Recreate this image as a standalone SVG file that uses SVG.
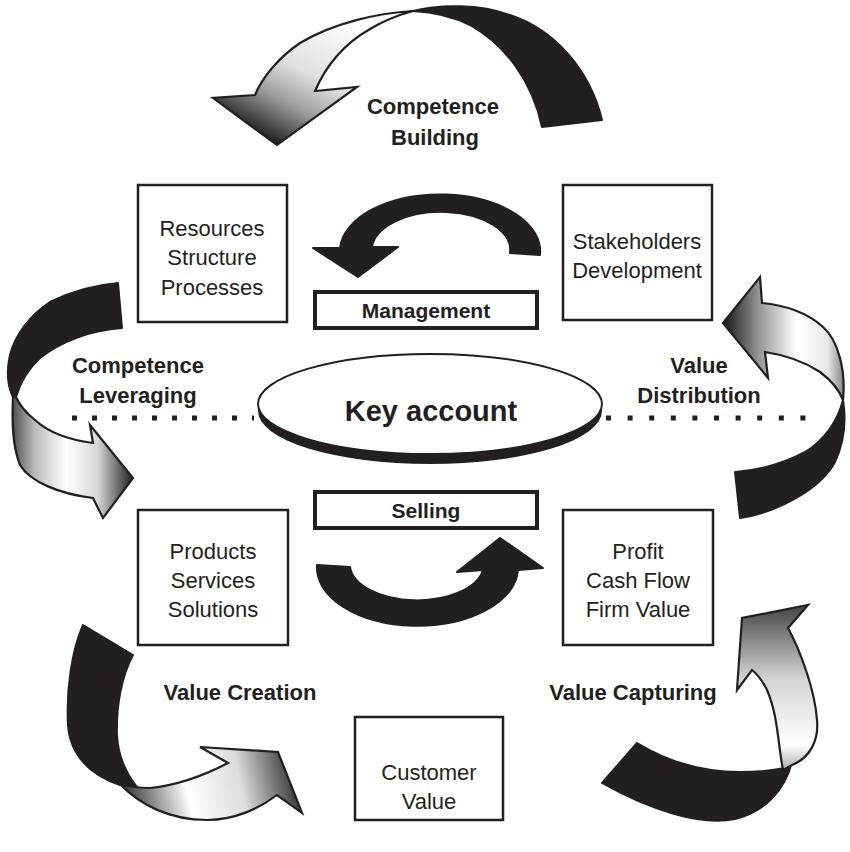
<svg xmlns="http://www.w3.org/2000/svg" width="850" height="852" viewBox="0 0 850 852">
<style>
.box{fill:#fff;stroke:#231f20;stroke-width:2.5}
.tbox{fill:#fff;stroke:#231f20;stroke-width:4}
.txt{font-family:"Liberation Sans",Arial,sans-serif;font-size:22px;fill:#231f20;text-anchor:middle}
.lbl{font-family:"Liberation Sans",Arial,sans-serif;font-size:21px;font-weight:bold;fill:#231f20;text-anchor:middle}
.blk{fill:#231f20;stroke:#231f20;stroke-width:2;stroke-linejoin:round}
.edge{stroke:#231f20;stroke-width:2.2;stroke-linejoin:miter}
.dots{stroke:#231f20;stroke-width:5;fill:none}
</style>
<defs>
<linearGradient id="gTop" gradientUnits="userSpaceOnUse" x1="340" y1="15" x2="270" y2="145">
<stop offset="0" stop-color="#ffffff"/><stop offset="0.45" stop-color="#e0e0e0"/><stop offset="0.7" stop-color="#9a9a9a"/><stop offset="1" stop-color="#151515"/>
</linearGradient>
<linearGradient id="gLeft" gradientUnits="userSpaceOnUse" x1="10" y1="0" x2="135" y2="0">
<stop offset="0" stop-color="#444"/><stop offset="0.2" stop-color="#bbb"/><stop offset="0.45" stop-color="#fff"/><stop offset="0.7" stop-color="#d8d8d8"/><stop offset="1" stop-color="#151515"/>
</linearGradient>
<linearGradient id="gRight" gradientUnits="userSpaceOnUse" x1="723" y1="0" x2="846" y2="0">
<stop offset="0" stop-color="#151515"/><stop offset="0.3" stop-color="#999"/><stop offset="0.6" stop-color="#fff"/><stop offset="0.85" stop-color="#e8e8e8"/><stop offset="1" stop-color="#777"/>
</linearGradient>
<linearGradient id="gBL" gradientUnits="userSpaceOnUse" x1="125" y1="800" x2="300" y2="760">
<stop offset="0" stop-color="#333"/><stop offset="0.35" stop-color="#fff"/><stop offset="0.65" stop-color="#dcdcdc"/><stop offset="1" stop-color="#1a1a1a"/>
</linearGradient>
<linearGradient id="gBR" gradientUnits="userSpaceOnUse" x1="0" y1="605" x2="0" y2="770">
<stop offset="0" stop-color="#444"/><stop offset="0.45" stop-color="#d5d5d5"/><stop offset="0.85" stop-color="#fff"/><stop offset="1" stop-color="#aaa"/>
</linearGradient>
</defs>

<g id="connectors">
<g id="arrow-competence-building">
<path class="blk" d="M413,11 C440,4 480,4 510,15 C555,30 590,70 602,120 L542,127 C532,80 505,45 470,25 C450,15 430,12 413,11 Z"/>
<path class="edge" fill="url(#gTop)" d="M413,11 C380,13 335,22 300,43 C278,58 262,78 255,95 L213,98 L277,145 L357,87 L315,91 C325,68 342,45 370,29 C385,20 402,14 413,11 Z"/>
</g>
<g id="arrow-competence-leveraging">
<path class="blk" d="M118,283 C95,285 70,292 50,302 C30,315 15,335 10,355 C6,372 8,388 13,397 L16,397 C20,383 27,370 40,358 C60,342 90,330 122,328 Z"/>
<path class="edge" fill="url(#gLeft)" d="M13,397 C12,420 12,445 20,465 C30,482 60,494 93,498 L103,518 L133,478 L90,425 L93,443 C70,440 48,432 35,420 C25,412 19,404 16,397 Z"/>
</g>
<g id="arrow-value-distribution">
<path class="blk" d="M735,472 L740,518 C775,513 820,490 835,462 C845,440 846,418 843,400 C838,420 825,440 805,452 C785,463 760,470 735,472 Z"/>
<path class="edge" fill="url(#gRight)" d="M843,400 C846,370 838,340 823,327 C808,313 785,305 762,303 L760,277 L723,323 L768,378 L765,352 C785,355 805,362 820,372 C832,381 840,392 843,400 Z"/>
</g>
<g id="arrow-value-creation">
<path class="blk" d="M83,625 C72,650 66,690 68,725 C70,755 90,775 120,785 L137,787 C125,772 118,755 117,735 C116,705 122,675 133,655 Z"/>
<path class="edge" fill="url(#gBL)" d="M120,784 C140,805 170,820 207,820 C235,820 260,808 277,795 L302,813 L278,752 L200,747 L228,763 C205,775 180,785 150,788 C140,788 130,787 120,784 Z"/>
</g>
<g id="arrow-value-capturing">
<path class="blk" d="M637,743 C665,760 700,772 740,772 C760,772 775,770 785,768 L792,762 C785,790 765,812 735,819 C700,826 650,810 602,783 Z"/>
<path class="edge" fill="url(#gBR)" d="M783,770 C778,745 778,715 767,690 C762,680 757,674 752,670 L737,690 L742,618 L808,605 L788,628 C800,650 815,690 817,720 C819,740 810,758 792,765 Z"/>
</g>
<path id="arrow-management" class="blk" d="M313,248 L340,248 A100,57 0 0 1 540,255 L510,253 A69,38 0 0 0 372,247 L398,247 L358,277 Z"/>
<path id="arrow-selling" class="blk" d="M317,565 A100,58 0 0 0 518,570 L543,568 L500,538 L457,572 L483,570 A67,36 0 0 1 350,567 Z"/>
<line class="dots" x1="72" y1="418" x2="254" y2="418" stroke-dasharray="5 15"/>
<line class="dots" x1="606" y1="418" x2="806" y2="418" stroke-dasharray="5 16.6"/>
</g>

<g id="node-resources">
<rect class="box" x="138" y="185" width="149" height="137"/>
<text class="txt" x="212" y="236">Resources</text>
<text class="txt" x="212" y="265">Structure</text>
<text class="txt" x="212" y="295">Processes</text>
</g>
<g id="node-stakeholders">
<rect class="box" x="563" y="185" width="149" height="135"/>
<text class="txt" x="637" y="249">Stakeholders</text>
<text class="txt" x="637" y="278">Development</text>
</g>
<g id="node-products">
<rect class="box" x="138" y="510" width="150" height="135"/>
<text class="txt" x="213" y="559">Products</text>
<text class="txt" x="213" y="588">Services</text>
<text class="txt" x="213" y="617">Solutions</text>
</g>
<g id="node-profit">
<rect class="box" x="563" y="510" width="150" height="135"/>
<text class="txt" x="638" y="559">Profit</text>
<text class="txt" x="638" y="588">Cash Flow</text>
<text class="txt" x="638" y="617">Firm Value</text>
</g>
<g id="node-customer">
<rect class="box" x="355" y="717" width="148" height="103"/>
<text class="txt" x="429" y="780">Customer</text>
<text class="txt" x="429" y="809">Value</text>
</g>
<g id="node-management">
<rect class="tbox" x="315" y="292" width="222" height="36"/>
<text class="lbl" x="426" y="318">Management</text>
</g>
<g id="node-selling">
<rect class="tbox" x="315" y="492" width="222" height="36"/>
<text class="lbl" x="426" y="518">Selling</text>
</g>
<g id="node-key-account">
<ellipse cx="430" cy="411" rx="172" ry="53" fill="#231f20"/>
<ellipse cx="430" cy="404" rx="172" ry="50" fill="#fff" stroke="#231f20" stroke-width="2"/>
<text class="lbl" x="431" y="421" style="font-size:29px">Key account</text>
</g>

<g id="labels">
<text class="lbl" x="433" y="114" style="font-size:22px">Competence</text>
<text class="lbl" x="435" y="145" style="font-size:22px">Building</text>
<text class="lbl" x="138" y="373" style="font-size:22px">Competence</text>
<text class="lbl" x="138" y="403" style="font-size:22px">Leveraging</text>
<text class="lbl" x="699" y="373" style="font-size:22px">Value</text>
<text class="lbl" x="699" y="403" style="font-size:22px">Distribution</text>
<text class="lbl" x="240" y="700" style="font-size:22px">Value Creation</text>
<text class="lbl" x="633" y="700" style="font-size:22px">Value Capturing</text>
</g>
</svg>
